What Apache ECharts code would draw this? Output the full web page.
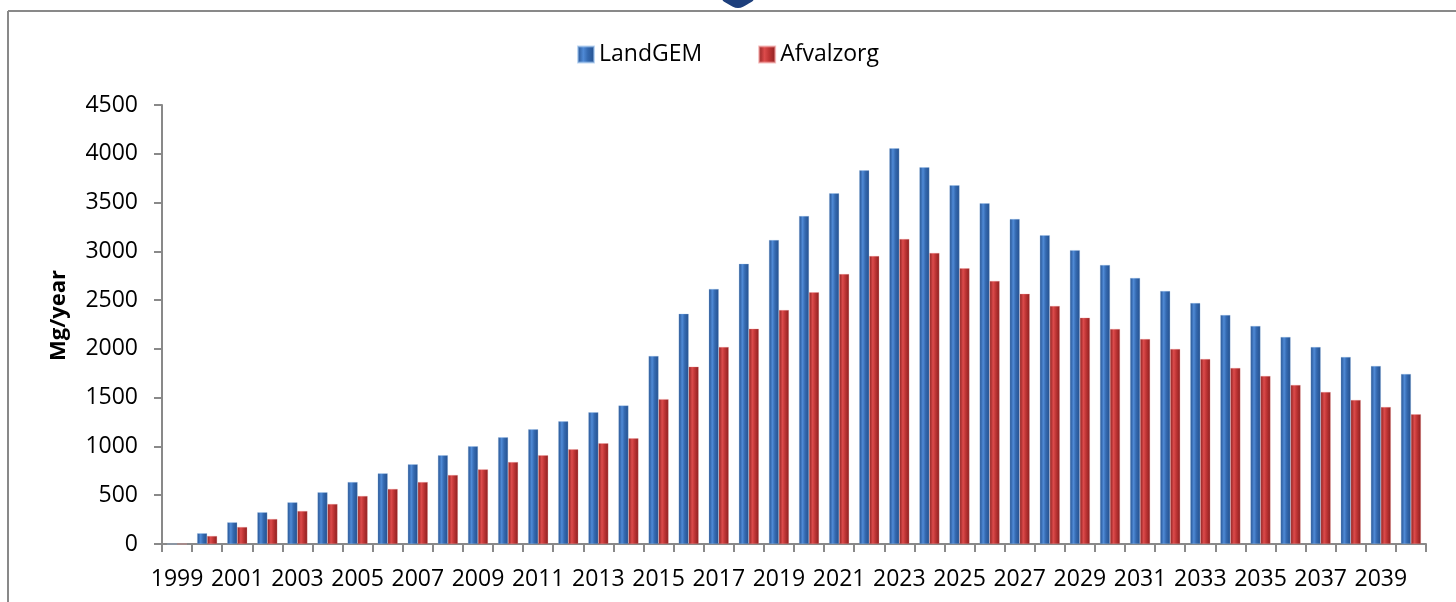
<!DOCTYPE html>
<html>
<head>
<meta charset="utf-8">
<script src="https://cdn.jsdelivr.net/npm/echarts@6/dist/echarts.min.js"></script>
<style>
  html, body { margin: 0; padding: 0; background: #fff; }
  #chart { width: 1456px; height: 602px; }
</style>
</head>
<body>
<div id="chart"></div>
<script>
// years on the category axis
var years = [];
for (var y = 1999; y <= 2040; y++) years.push(String(y));

// values (Mg/year)
var landgem = [0, 110, 222, 325, 427, 530, 635, 724, 817, 909, 1001, 1093, 1175, 1257, 1350, 1420,
    1927, 2360, 2614, 2872, 3116, 3362, 3595, 3830, 4056, 3861, 3677, 3492, 3331, 3165, 3012,
    2860, 2727, 2593, 2470, 2347, 2235, 2122, 2019, 1917, 1825, 1743];
var afvalzorg = [0, 82, 174, 256, 338, 410, 492, 564, 635, 707, 765, 840, 909, 970, 1032, 1083,
    1485, 1818, 2019, 2207, 2398, 2580, 2767, 2952, 3126, 2983, 2826, 2696, 2564, 2440, 2320,
    2204, 2101, 1999, 1896, 1804, 1722, 1630, 1558, 1476, 1404, 1330];

var font = '"Open Sans", "DejaVu Sans", sans-serif';
var axisGrey = '#898989';

function cylinder(dark, mid, light) {
    return new echarts.graphic.LinearGradient(0, 0, 1, 0, [
        { offset: 0, color: dark },
        { offset: 0.35, color: light },
        { offset: 0.6, color: mid },
        { offset: 1, color: dark }
    ]);
}

var chart = echarts.init(document.getElementById('chart'));
chart.setOption({
    animation: false,
    backgroundColor: '#fff',
    graphic: [
        // frame of the chart area
        { type: 'line', shape: { x1: 8, y1: 11, x2: 1456, y2: 11 }, style: { stroke: axisGrey, lineWidth: 2 } },
        { type: 'line', shape: { x1: 8, y1: 11, x2: 8, y2: 602 }, style: { stroke: axisGrey, lineWidth: 2 } },
        // the little badge poking in at the top
        { type: 'polygon', shape: { points: [[723, 0], [753, 0], [748, 4], [738, 8], [728, 4]], smooth: 0.4 },
          style: { fill: '#1d3f7c' } }
    ],
    legend: {
        top: 38,
        left: 'center',
        itemWidth: 16,
        itemHeight: 16,
        itemGap: 56,
        icon: 'rect',
        textStyle: { fontFamily: font, fontSize: 23, color: '#000' },
        data: ['LandGEM', 'Afvalzorg']
    },
    grid: { left: 162, right: 30, top: 105, bottom: 58 },
    xAxis: {
        type: 'category',
        data: years,
        axisLine: { lineStyle: { color: axisGrey, width: 2 } },
        axisTick: { show: true, interval: 0, length: 8, lineStyle: { color: axisGrey, width: 2 } },
        axisLabel: { interval: 1, margin: 24, color: '#000', fontFamily: font, fontSize: 23 }
    },
    yAxis: {
        type: 'value',
        min: 0,
        max: 4500,
        interval: 500,
        name: 'Mg/year',
        nameLocation: 'middle',
        nameGap: 92,
        nameTextStyle: { fontFamily: font, fontSize: 22, fontWeight: 'bold', color: '#000', padding: [0, 0, 0, 18] },
        splitLine: { show: false },
        axisLine: { show: true, lineStyle: { color: axisGrey, width: 2 } },
        axisTick: { show: true, length: 8, lineStyle: { color: axisGrey, width: 2 } },
        axisLabel: {
            margin: 24, color: '#000', fontFamily: font, fontSize: 23,
            formatter: function (v) { return String(v); }
        }
    },
    series: [{
        name: 'LandGEM',
        type: 'bar',
        data: landgem,
        barWidth: 10,
        barGap: '0%',
        itemStyle: {
            color: cylinder('#244f8c', '#3469b0', '#4f8ad6'),
            borderColor: 'rgba(150,190,235,0.6)',
            borderWidth: 0.5
        }
    }, {
        name: 'Afvalzorg',
        type: 'bar',
        data: afvalzorg,
        barWidth: 10,
        barGap: '0%',
        itemStyle: {
            color: cylinder('#8a1f1f', '#bf3535', '#dc4b4b'),
            borderColor: 'rgba(240,150,150,0.6)',
            borderWidth: 0.5
        }
    }]
});
</script>
</body>
</html>
